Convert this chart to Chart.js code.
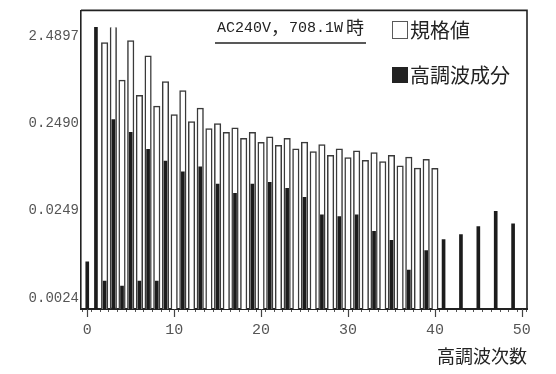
<!DOCTYPE html>
<html>
<head>
<meta charset="utf-8">
<script src="https://cdn.jsdelivr.net/npm/chart.js@4/dist/chart.umd.min.js"></script>
<style>
  html, body { margin: 0; padding: 0; background: #fff; }
  #wrap { width: 556px; height: 374px; }
</style>
</head>
<body>
<div id="wrap"><canvas id="c" width="556" height="374"></canvas></div>
<script>
// Harmonic order (x axis)
const harmonics = [
  0, 1, 2, 3, 4, 5, 6, 7, 8, 9,
  10, 11, 12, 13, 14, 15, 16, 17, 18, 19,
  20, 21, 22, 23, 24, 25, 26, 27, 28, 29,
  30, 31, 32, 33, 34, 35, 36, 37, 38, 39,
  40, 41, 42, 43, 44, 45, 46, 47, 48, 49, 50
];

// 規格値 (limit values, A)
const limitValues = [
  null, null, 2.10, 3.15, 0.777, 2.21, 0.518, 1.48, 0.389, 0.748,
  0.311, 0.590, 0.259, 0.369, 0.215, 0.246, 0.195, 0.219, 0.166, 0.195,
  0.149, 0.173, 0.138, 0.166, 0.126, 0.150, 0.117, 0.141, 0.106, 0.126,
  0.0996, 0.119, 0.0928, 0.114, 0.0897, 0.106, 0.0799, 0.101, 0.0752, 0.0953,
  0.0747, null, null, null, null, null, null, null, null, null, null
];

// 高調波成分 (measured harmonic current, A)
const measuredValues = [
  0.00628, 3.15, 0.00378, 0.273, 0.00331, 0.195, 0.00378, 0.124, 0.00378, 0.0910,
  null, 0.0683, null, 0.0779, null, 0.0493, null, 0.0386, null, 0.0493,
  null, 0.0516, null, 0.0441, null, 0.0348, null, 0.0218, null, 0.0209,
  null, 0.0218, null, 0.0141, null, 0.0111, null, 0.00504, null, 0.00846,
  null, 0.0113, null, 0.0129, null, 0.0160, null, 0.0240, null, 0.0172, null
];

// Y axis tick values (log scale)
const yTickValues = [0.0024, 0.0249, 0.2490, 2.4897];

const seriesNames = ['規格値', '高調波成分'];
const xAxisTitle = '高調波次数';
const conditionRuns = ['AC240V', '，', '708.1W', '時'];
const xLabelStep = 10;
const plotCeiling = 3.15;   // bars at this level run off the top open-ended

const MONO = '"Liberation Mono", monospace';
const CJK = '"Noto Sans CJK JP", sans-serif';

const decor = {
  id: 'decor',
  afterDraw(chart) {
    const { ctx, chartArea: a, scales: { x } } = chart;
    ctx.save();

    // top and right sides of the plot frame
    ctx.strokeStyle = '#222';
    ctx.lineWidth = 1.6;
    ctx.beginPath();
    ctx.moveTo(a.left, a.top);
    ctx.lineTo(a.right, a.top);
    ctx.lineTo(a.right, a.bottom);
    ctx.stroke();

    // longer tick marks at the labelled orders
    ctx.strokeStyle = '#444';
    ctx.lineWidth = 1.2;
    harmonics.filter(h => h % xLabelStep === 0).forEach(h => {
      const px = Math.round(x.getPixelForValue(h)) + 0.5;
      ctx.beginPath();
      ctx.moveTo(px, a.bottom);
      ctx.lineTo(px, a.bottom + 8);
      ctx.stroke();
    });

    // measurement condition, underlined
    ctx.fillStyle = '#222';
    ctx.textBaseline = 'middle';
    ctx.textAlign = 'left';
    const fonts = ['15px ' + MONO, '18px ' + CJK, '15px ' + MONO, '18px ' + CJK];
    const startX = 217;
    let cx = startX;
    conditionRuns.forEach((t, i) => {
      ctx.font = fonts[i];
      ctx.fillText(t, cx, i % 2 ? 27 : 28.5);
      cx += ctx.measureText(t).width + (i === 2 ? 3 : 0);
    });
    ctx.strokeStyle = '#222';
    ctx.lineWidth = 1.3;
    ctx.beginPath();
    ctx.moveTo(startX - 2, 43);
    ctx.lineTo(cx + 2, 43);
    ctx.stroke();

    // legend
    ctx.font = '20px ' + CJK;
    ctx.fillText('□' + chart.data.datasets[1].label, 390, 30);
    ctx.fillText('■' + chart.data.datasets[0].label, 390, 75);

    ctx.restore();
  }
};

new Chart(document.getElementById('c'), {
  type: 'bar',
  data: {
    datasets: [
      {
        label: seriesNames[1],
        data: harmonics.map((h, i) => ({ x: h, y: measuredValues[i] })),
        backgroundColor: '#1c1c1c',
        borderWidth: 0,
        barThickness: 3,
        grouped: false,
        order: 0
      },
      {
        label: seriesNames[0],
        data: harmonics.map((h, i) => ({ x: h, y: limitValues[i] })),
        backgroundColor: '#ffffff',
        borderColor: '#3a3a3a',
        borderWidth: 1.5,
        borderSkipped: c => (c.raw && c.raw.y >= plotCeiling) ? 'top' : 'start',
        barThickness: 6.5,
        grouped: false,
        order: 1
      }
    ]
  },
  options: {
    responsive: false,
    animation: false,
    devicePixelRatio: 1,
    layout: { padding: { top: 10, right: 29, left: 0, bottom: 0 } },
    plugins: { legend: { display: false }, tooltip: { enabled: false }, title: { display: false } },
    scales: {
      x: {
        type: 'linear',
        min: -0.72,
        max: 50.6,
        offset: false,
        afterFit: s => { s.height = 65; },
        afterBuildTicks: s => { s.ticks = harmonics.map(v => ({ value: v })); },
        grid: { drawOnChartArea: false, drawTicks: true, tickLength: 3, tickColor: '#555', tickWidth: 1 },
        border: { display: true, color: '#222', width: 2 },
        ticks: {
          autoSkip: false,
          maxRotation: 0,
          padding: 9,
          color: '#555',
          font: { family: MONO, size: 15 },
          callback: v => (v % xLabelStep === 0 ? String(v) : '')
        },
        title: {
          display: true,
          text: xAxisTitle,
          align: 'end',
          color: '#222',
          font: { family: CJK, size: 18 },
          padding: { top: 0, bottom: 7 }
        }
      },
      y: {
        type: 'logarithmic',
        min: 0.0018,
        max: 4.93,
        afterFit: s => { s.width = 81; },
        afterBuildTicks: s => { s.ticks = yTickValues.map(v => ({ value: v })); },
        grid: { display: false, drawTicks: false },
        border: { display: true, color: '#222', width: 1.6 },
        ticks: {
          padding: 2,
          color: '#555',
          font: { family: MONO, size: 14 },
          callback: v => Number(v).toFixed(4)
        }
      }
    }
  },
  plugins: [decor]
});
</script>
</body>
</html>
